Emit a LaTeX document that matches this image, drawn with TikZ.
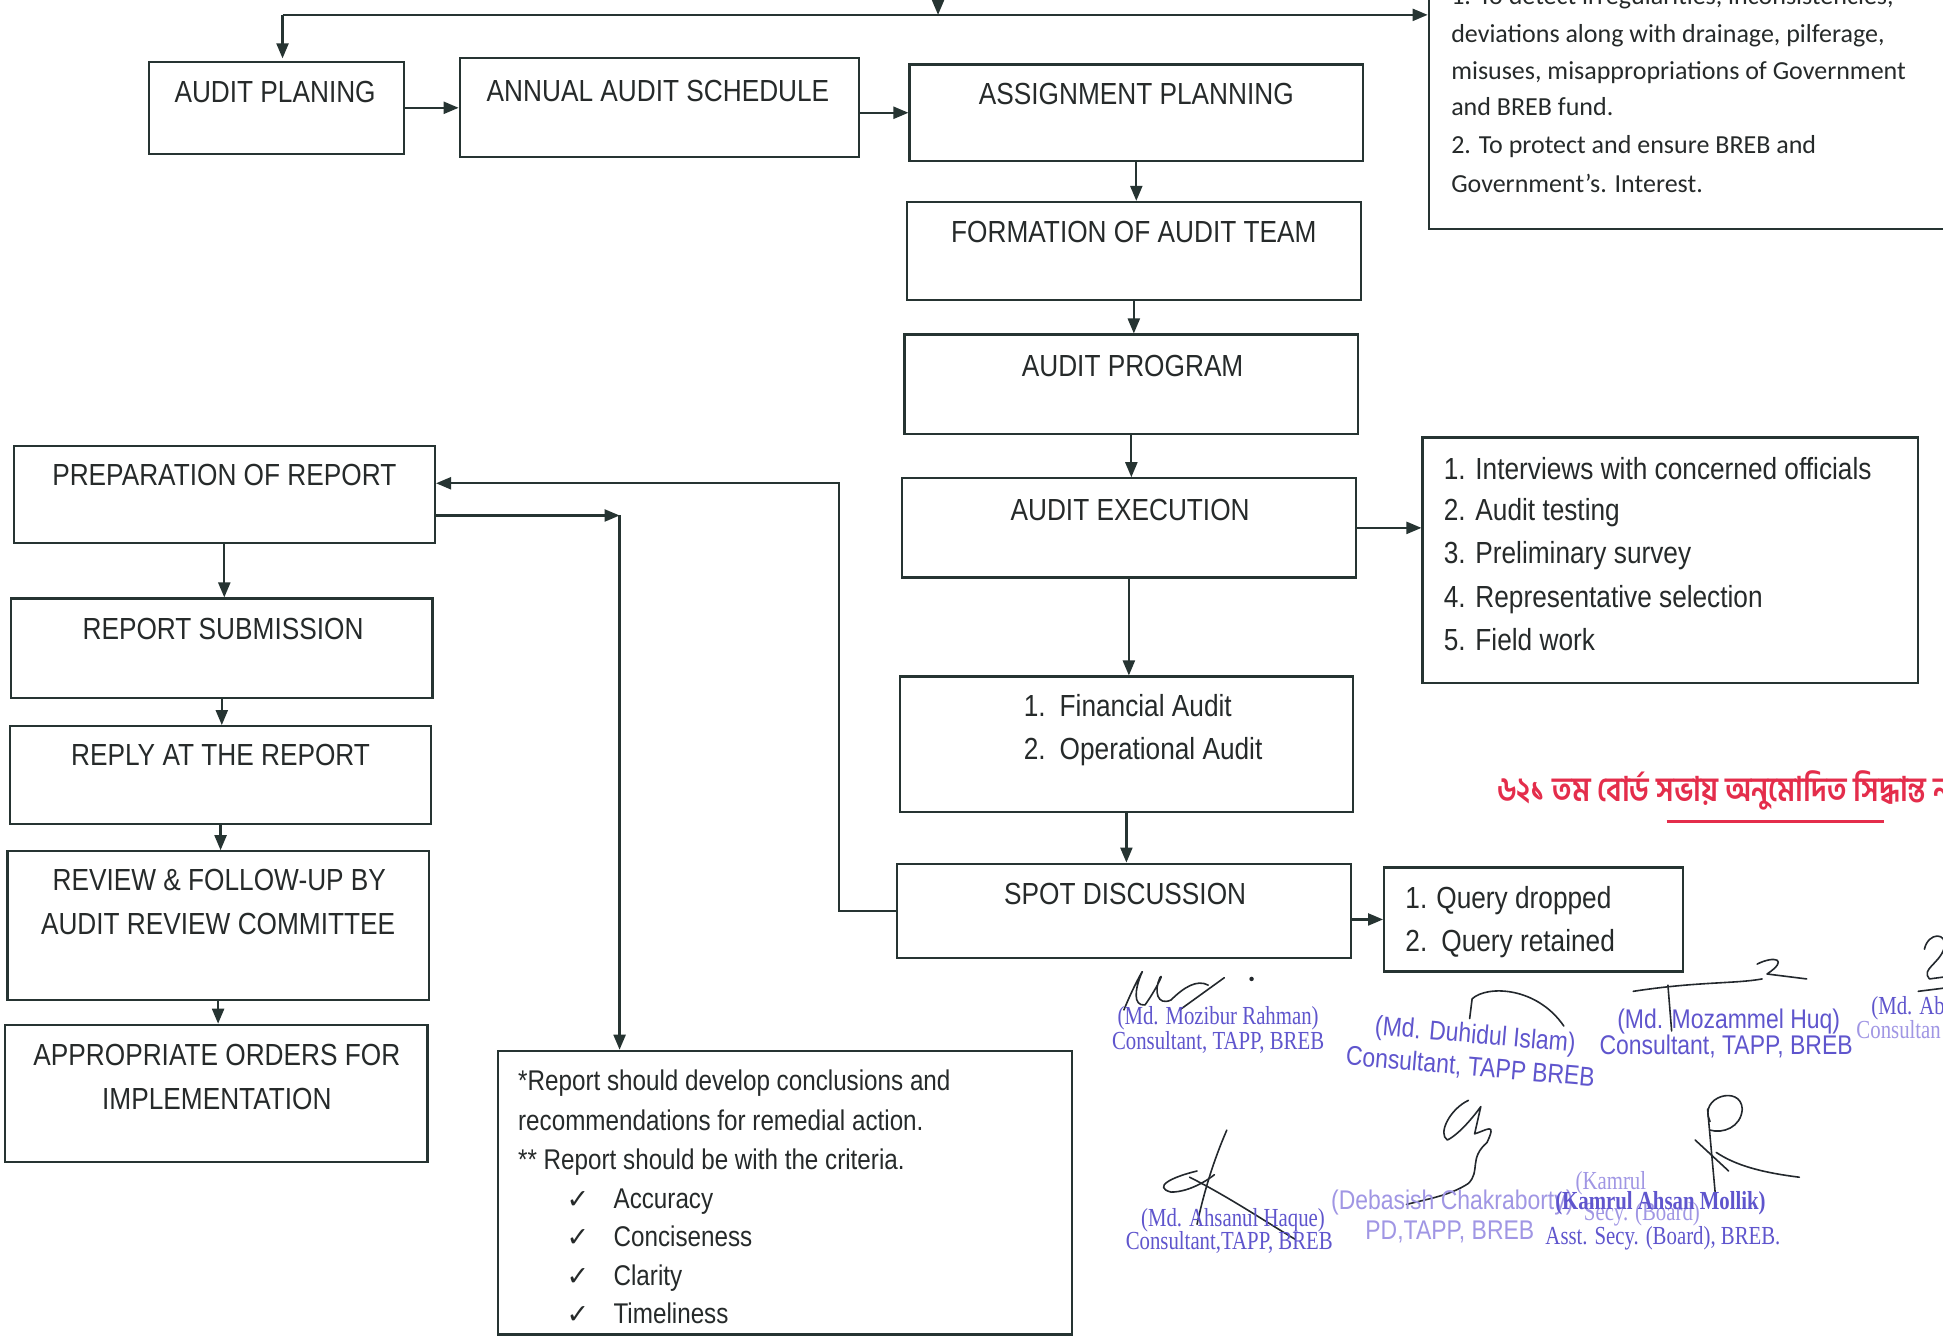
\documentclass[tikz,border=0pt]{standalone}
\usepackage{fontspec}
\setmainfont{Liberation Sans}
\newfontfamily\nar[FakeStretch=0.86]{Liberation Sans}
\newfontfamily\ntf[FakeStretch=0.85]{Liberation Sans}
\newfontfamily\calib{Carlito}
\newfontfamily\bng[Script=Bengali,FakeStretch=0.86]{Hind Siliguri}
\newfontfamily\tms[FakeStretch=0.8]{Liberation Serif}
\newfontfamily\snar[FakeStretch=0.85]{Liberation Sans}
\newfontfamily\dej{DejaVu Sans}
\usetikzlibrary{arrows.meta,fit,calc}
\definecolor{ink}{RGB}{38,52,50}
\definecolor{txt}{RGB}{38,42,42}
\definecolor{stamp}{RGB}{95,85,205}
\definecolor{stampl}{RGB}{160,150,228}
\definecolor{bred}{RGB}{228,45,75}
\definecolor{sigink}{RGB}{35,40,45}
\begin{document}
\begin{tikzpicture}[x=1.239pt,y=-1.239pt,
  box/.style={draw=ink,line width=2.2pt,inner sep=0pt},
  arr/.style={draw=ink,line width=2.2pt,-{Triangle[length=15pt,width=12pt]}},
  ln/.style={draw=ink,line width=2.2pt},
  ttl/.style={text=txt,font=\nar\fontsize{30.5}{36}\selectfont,inner sep=0pt,anchor=base},
  lst/.style={text=txt,font=\nar\fontsize{30.5}{36}\selectfont,inner sep=0pt,anchor=base west},
  nt/.style={text=txt,font=\ntf\fontsize{28.5}{34}\selectfont,inner sep=0pt,anchor=base west},
  ck/.style={text=txt,font=\dej\fontsize{27}{30}\selectfont,inner sep=0pt,anchor=base west},
  cal/.style={text=txt,font=\calib\fontsize{26}{30}\selectfont,inner sep=0pt,anchor=base west},
  stt/.style={text=stamp,font=\tms\fontsize{26}{30}\selectfont,inner sep=0pt,anchor=base},
  sts/.style={text=stamp,font=\snar\fontsize{27}{30}\selectfont,inner sep=0pt,anchor=base},
  sig/.style={draw=sigink,line width=1.6pt,line cap=round,line join=round}]
\clip (0,0) rectangle (1568,1079);
\fill[white] (0,0) rectangle (1568,1079);

% ---------- boxes ----------
\node[box,fit={(120,50) (326,124)}] (ap) {};
\node[box,fit={(371,47) (693,127)}] (aas) {};
\node[box,fit={(734,52) (1100,130)}] (asp) {};
\node[box,fit={(1153,-30) (1600,185)}] (obj) {};
\node[box,fit={(732,163) (1098,242)}] (fat) {};
\node[box,fit={(730,270) (1096,350)}] (apg) {};
\node[box,fit={(728,386) (1094,466)}] (aex) {};
\node[box,fit={(1148,353) (1548,551)}] (exl) {};
\node[box,fit={(726,546) (1092,655)}] (fin) {};
\node[box,fit={(724,697) (1090,773)}] (spd) {};
\node[box,fit={(1117,700) (1358,784)}] (qry) {};
\node[box,fit={(11,360) (351,438)}] (prep) {};
\node[box,fit={(9,483) (349,563)}] (rsub) {};
\node[box,fit={(8,586) (348,665)}] (rply) {};
\node[box,fit={(6,687) (346,807)}] (rev) {};
\node[box,fit={(4,827) (345,938)}] (ord) {};
\node[box,fit={(402,848) (865,1077)}] (note) {};

% ---------- box texts ----------
\node[ttl] (t-ap) at (222,83) {AUDIT PLANING};
\node[ttl] (t-aas) at (531,82) {ANNUAL AUDIT SCHEDULE};
\node[ttl] (t-asp) at (917,84) {ASSIGNMENT PLANNING};
\node[ttl] (t-fat) at (915,196) {FORMATION OF AUDIT TEAM};
\node[ttl] (t-apg) at (914,304) {AUDIT PROGRAM};
\node[ttl] (t-aex) at (912,420) {AUDIT EXECUTION};
\node[ttl] (t-spd) at (908,730) {SPOT DISCUSSION};
\node[ttl] (t-prep) at (181,392) {PREPARATION OF REPORT};
\node[ttl] (t-rsub) at (180,516) {REPORT SUBMISSION};
\node[ttl] (t-rply) at (178,618) {REPLY AT THE REPORT};
\node[ttl] (t-rev1) at (177,719) {REVIEW \& FOLLOW-UP BY};
\node[ttl] (t-rev2) at (176,754) {AUDIT REVIEW COMMITTEE};
\node[ttl] (t-ord1) at (175,860) {APPROPRIATE ORDERS FOR};
\node[ttl] (t-ord2) at (175,895) {IMPLEMENTATION};

% objectives box (Calibri)
\node[cal] (o1) at (1171,4) {1. To detect irregularities, inconsistencies,};
\node[cal] (o2) at (1171,34) {deviations along with drainage, pilferage,};
\node[cal] (o3) at (1171,64) {misuses, misappropriations of Government};
\node[cal] (o4) at (1171,93) {and BREB fund.};
\node[cal] (o5) at (1171,124) {2. To protect and ensure BREB and};
\node[cal] (o6) at (1171,155) {Government’s. Interest.};

% execution list
\node[lst] (e1) at (1165,387) {1. Interviews with concerned officials};
\node[lst] (e2) at (1165,420) {2. Audit testing};
\node[lst] (e3) at (1165,455) {3. Preliminary survey};
\node[lst] (e4) at (1165,490) {4. Representative selection};
\node[lst] (e5) at (1165,525) {5. Field work};

% financial / operational
\node[lst] (f1n) at (826,578) {1.};
\node[lst] (f1) at (855,578) {Financial Audit};
\node[lst] (f2n) at (826,613) {2.};
\node[lst] (f2) at (855,613) {Operational Audit};

% query list
\node[lst] (q1n) at (1134,733) {1.};
\node[lst] (q1) at (1159,733) {Query dropped};
\node[lst] (q2n) at (1134,768) {2.};
\node[lst] (q2) at (1163,768) {Query retained};

% note box
\node[nt] (n1) at (418,880) {*Report should develop conclusions and};
\node[nt] (n2) at (418,912) {recommendations for remedial action.};
\node[nt] (n3) at (418,944) {** Report should be with the criteria.};
\node[ck] (c1) at (457,975) {✓};
\node[nt] (n4) at (495,975) {Accuracy};
\node[ck] (c2) at (457,1006) {✓};
\node[nt] (n5) at (495,1006) {Conciseness};
\node[ck] (c3) at (457,1037) {✓};
\node[nt] (n6) at (495,1037) {Clarity};
\node[ck] (c4) at (457,1068) {✓};
\node[nt] (n7) at (495,1068) {Timeliness};

% ---------- connectors ----------
\coordinate (tl) at (228,12);
\coordinate (topin) at (757,-20);
\draw[arr] (tl) -- ($(tl |- ap.north)+(0,-2)$);
\draw[arr] (tl) -- (tl -| obj.west);
\draw[arr] (topin) -- (topin |- tl);
\draw[arr] (ap.east) -- (ap.east -| aas.west);
\draw[arr] (aas.east |- asp.west) -- (asp.west);
\draw[arr] (asp.south) -- (asp.south |- fat.north);
\draw[arr] (fat.south) -- (fat.south |- apg.north);
\draw[arr] (apg.south) -- (apg.south |- aex.north);
\draw[arr] (aex.east) -- (aex.east -| exl.west);
\draw[arr] (aex.south) -- (aex.south |- fin.north);
\draw[arr] (fin.south) -- (fin.south |- spd.north);
\draw[arr] (spd.east |- qry.west) -- (qry.west);
\coordinate (bk) at (677,390);
\draw[arr] (spd.west) -| (bk) -- (bk -| prep.east);
\coordinate (nj) at (500,416);
\draw[arr] (nj -| prep.east) -- (nj);
\draw[arr] (nj) -- (nj |- note.north);
\draw[arr] (prep.south) -- (prep.south |- rsub.north);
\draw[arr] (rsub.south) -- (rsub.south |- rply.north);
\draw[arr] (rply.south) -- (rply.south |- rev.north);
\draw[arr] (rev.south) -- (rev.south |- ord.north);

% ---------- Bengali note ----------
\node[text=bred,font=\bng\bfseries\fontsize{34}{40}\selectfont,inner sep=0pt,anchor=base west] (bn) at (1208,647) {৬২১ তম বোর্ড সভায় অনুমোদিত সিদ্ধান্ত ন};
\draw[draw=bred,line width=2.4pt] (1345,663) -- (1520,663);

% ---------- signatures ----------
\draw[sig] (907,815) .. controls (915,795) and (925,778) .. (921,786) .. controls (916,798) and (914,812) .. (924,811) .. controls (932,800) and (940,784) .. (936,789) .. controls (931,800) and (934,812) .. (945,807) .. controls (955,797) and (966,790) .. (975,795);
\draw[sig] (952,815) -- (988,789);
\fill[sigink] (1010,790) circle (1.8);
\draw[sig] (1186,822) -- (1188,806) .. controls (1200,795) and (1240,796) .. (1262,828);
\draw[sig] (1318,800) .. controls (1370,792) and (1400,794) .. (1422,790);
\draw[sig] (1346,795) -- (1349,832);
\draw[sig] (1418,778) .. controls (1432,771) and (1444,774) .. (1426,786) -- (1458,790);
\draw[sig] (1553,766) .. controls (1556,752) and (1572,752) .. (1569,765) .. controls (1565,778) and (1550,782) .. (1557,790) -- (1572,788);
\draw[sig] (1548,800) -- (1572,797);
\draw[sig] (990,912) .. controls (980,935) and (972,960) .. (966,988);
\draw[sig] (966,945) .. controls (945,950) and (930,958) .. (945,962) .. controls (960,962) and (975,952) .. (980,948);
\draw[sig] (960,950) .. controls (990,965) and (1020,985) .. (1045,1000);
\draw[sig] (1185,888) .. controls (1170,895) and (1160,915) .. (1168,920) .. controls (1178,915) and (1190,900) .. (1195,893) -- (1190,915) .. controls (1200,912) and (1208,905) .. (1200,922) .. controls (1185,935) and (1195,945) .. (1185,955) .. controls (1170,965) and (1150,968) .. (1135,972);
\draw[sig] (1380,905) .. controls (1370,885) and (1405,875) .. (1406,895) .. controls (1405,910) and (1390,915) .. (1380,912);
\draw[sig] (1378,895) -- (1385,972);
\draw[sig] (1385,930) .. controls (1400,940) and (1420,946) .. (1452,950);
\draw[sig] (1368,920) -- (1395,945);

% ---------- stamps ----------
\node[stt] (s1a) at (983,827) {(Md. Mozibur Rahman)};
\node[stt] (s1b) at (983,847) {Consultant, TAPP, BREB};
\node[sts,rotate=-5] (s2a) at (1190,842) {(Md. Duhidul Islam)};
\node[sts,rotate=-5] (s2b) at (1186,868) {Consultant, TAPP BREB};
\node[sts] (s3a) at (1395,830) {(Md. Mozammel Huq)};
\node[sts] (s3b) at (1393,851) {Consultant, TAPP, BREB};
\node[stt,anchor=base west] (s4a) at (1510,819) {(Md. Ab};
\node[stt,anchor=base west,text=stampl] (s4b) at (1498,838) {Consultan};
\node[stt] (s5a) at (995,990) {(Md. Ahsanul Haque)};
\node[stt] (s5b) at (992,1008) {Consultant,TAPP, BREB};
\node[sts,text=stampl] (s6a) at (1172,976) {(Debasish Chakraborty)};
\node[sts,text=stampl] (s6b) at (1170,1000) {PD,TAPP, BREB};
\node[stt,text=stampl] (s7c) at (1300,960) {(Kamrul};
\node[stt,text=stampl] (s7d) at (1325,985) {Secy. (Board)};
\node[stt,font=\tms\bfseries\fontsize{26}{30}\selectfont] (s7a) at (1340,976) {(Kamrul Ahsan Mollik)};
\node[stt] (s7b) at (1342,1004) {Asst. Secy. (Board), BREB.};
\end{tikzpicture}
\end{document}
